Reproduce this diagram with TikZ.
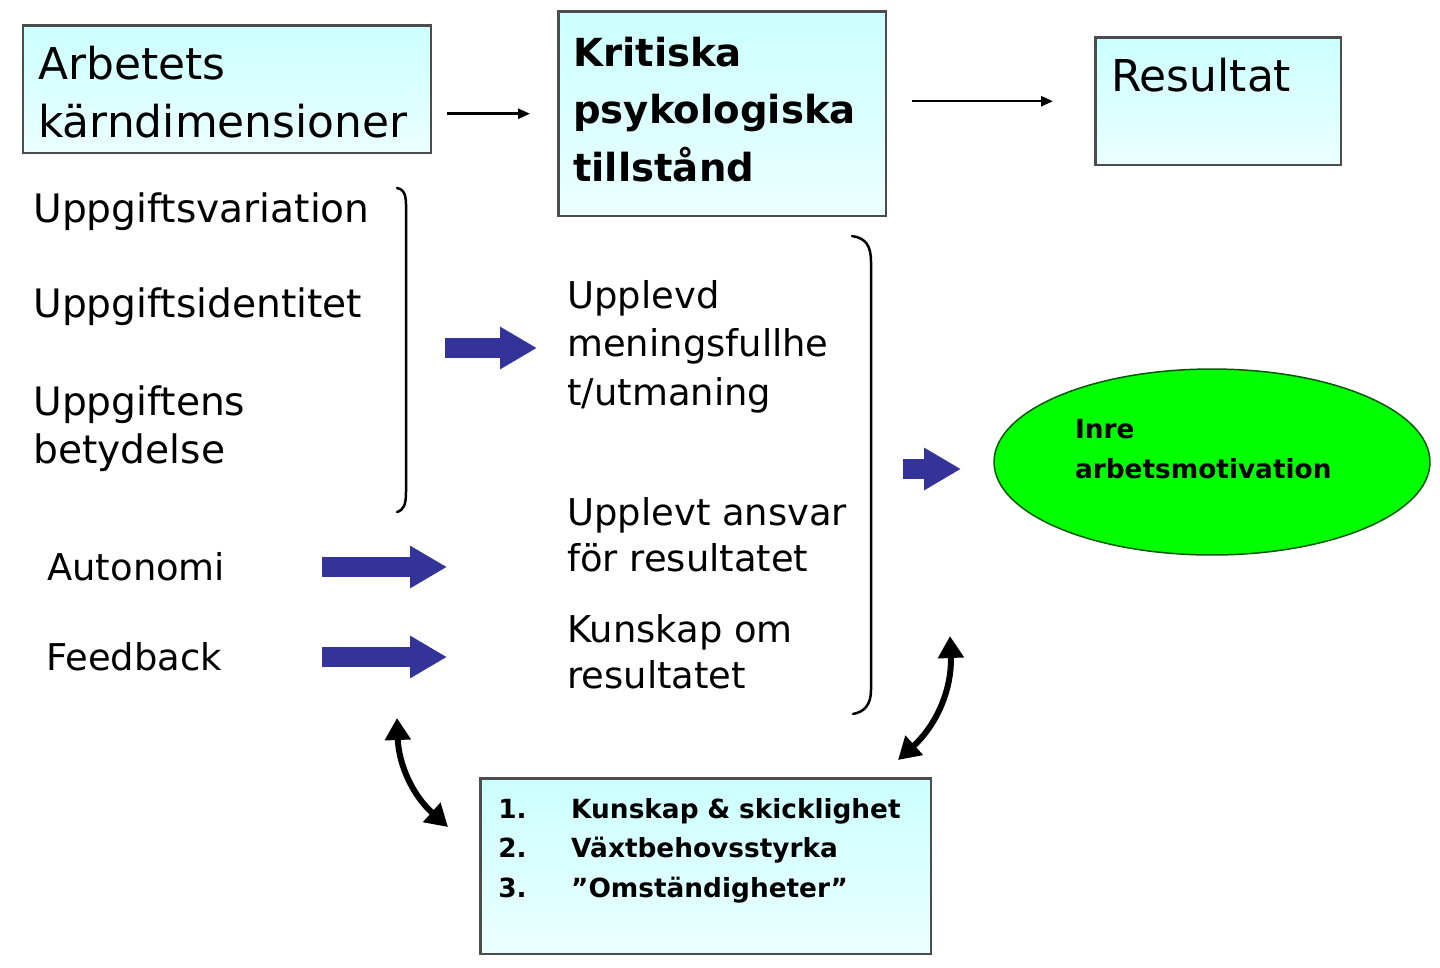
\documentclass[tikz,border=0pt]{standalone}
\usepackage{fontspec}
\setmainfont{DejaVu Sans}
\usetikzlibrary{arrows.meta,shapes.geometric}
\definecolor{blockblue}{RGB}{51,51,153}
\definecolor{ovalgreen}{RGB}{0,255,0}
\tikzstyle{box} = [draw=black!70, line width=0.05cm, top color=cyan!20, bottom color=cyan!8, anchor=north west, inner ysep=0, align=left]
\tikzstyle{headfont} = [font=\fontsize{25}{33}\selectfont]
\tikzstyle{listfont} = [font=\fontsize{15}{22.5}\selectfont\bfseries]
\tikzstyle{txt} = [anchor=base west, inner sep=0, align=left, font=\fontsize{21}{26}\selectfont]
\tikzstyle{wide} = [font=\fontsize{22.3}{27}\selectfont]
\tikzstyle{paren} = [line width=0.05cm, line cap=round]
\tikzstyle{flow} = [line width=0.05cm, -{Triangle[length=0.24cm,width=0.2cm]}]
\tikzstyle{blk} = [blockblue, line width=0.4cm, -{Triangle[length=0.74cm,width=0.8cm]}]
\tikzstyle{dbl} = [line width=0.12cm, {Triangle[length=0.44cm,width=0.5cm]}-{Triangle[length=0.44cm,width=0.5cm]}]

\begin{document}
\begin{tikzpicture}[x=0.02cm,y=-0.02cm]
        \useasboundingbox (0,0) rectangle (1440,967);
        \node[box,headfont,inner xsep=0.3cm,text width=7.56cm,text height=1.08cm,text depth=1.48cm](arb) at (22,24){Arbetets\\kärndimensioner};
        \node[box,font=\fontsize{22}{32.7}\selectfont\bfseries,inner xsep=0.3cm,text width=5.96cm,text height=1.1cm,text depth=3cm](krit) at (557,10){Kritiska\\psykologiska\\tillstånd};
        \node[box,headfont,inner xsep=0.32cm,text width=4.28cm,text height=1.08cm,text depth=1.48cm](res) at (1094,36){Resultat};
        \node[box,listfont,inner xsep=0.36cm,text width=8.3cm,text height=0.8cm,text depth=2.72cm](fakt) at (479,777){\makebox[1.46cm][l]{1.}Kunskap \& skicklighet\\\makebox[1.46cm][l]{2.}Växtbehovsstyrka\\\makebox[1.46cm][l]{3.}”Omständigheter”};
        \node[txt,wide](uvar) at (33,222){Uppgiftsvariation};
        \node[txt,wide](uid) at (33,317){Uppgiftsidentitet};
        \node[txt,wide](ubet) at (33,463){Uppgiftens\\betydelse};
        \node[txt](auto) at (47,580){Autonomi};
        \node[txt](feed) at (46,670){Feedback};
        \node[txt,font=\fontsize{21}{27.5}\selectfont](upl) at (567,405){Upplevd\\meningsfullhe\\t/utmaning};
        \node[txt](ansv) at (567,571){Upplevt ansvar\\för resultatet};
        \node[txt](kunsk) at (567,688){Kunskap om\\resultatet};
        \node[ellipse,draw=green!35!black,line width=0.03cm,fill=ovalgreen,minimum width=8.72cm,minimum height=3.72cm,inner sep=0,listfont,align=left,text width=5.48cm,text depth=1.32cm](inre) at (1212,462){Inre\\arbetsmotivation};
        \draw[flow,shorten <=0.3cm,shorten >=0.54cm](arb.east |- krit.west)--(krit.west);
        \draw[flow,shorten <=0.5cm,shorten >=0.82cm](krit.east |- res.west)--(res.west);
        \draw[paren](397,188) .. controls (407,190) and (406,200) .. (406,214) -- (406,492) .. controls (406,504) and (404,510) .. (397,512);
        \draw[paren](852,236) .. controls (866,238) and (871,246) .. (871,262) -- (871,690) .. controls (871,705) and (864,712) .. (853,714);
        \coordinate (m1) at (445,348);
        \coordinate (m2) at (537,348);
        \coordinate (a1) at (322,567);
        \coordinate (a2) at (447,567);
        \coordinate (f1) at (322,657);
        \coordinate (f2) at (447,657);
        \coordinate (i1) at (903,469);
        \coordinate (i2) at (961,469);
        \draw[blk](m1)--(m2);
        \draw[blk](a1)--(a2);
        \draw[blk](f1)--(f2);
        \draw[blk](i1)--(i2);
        \coordinate (l1) at (397,718);
        \coordinate (l2) at (448,827);
        \coordinate (r1) at (950,636);
        \coordinate (r2) at (898,760);
        \draw[dbl](l1)to[bend right=23](l2);
        \draw[dbl](r1)to[bend left=25](r2);
\end{tikzpicture}
\end{document}
